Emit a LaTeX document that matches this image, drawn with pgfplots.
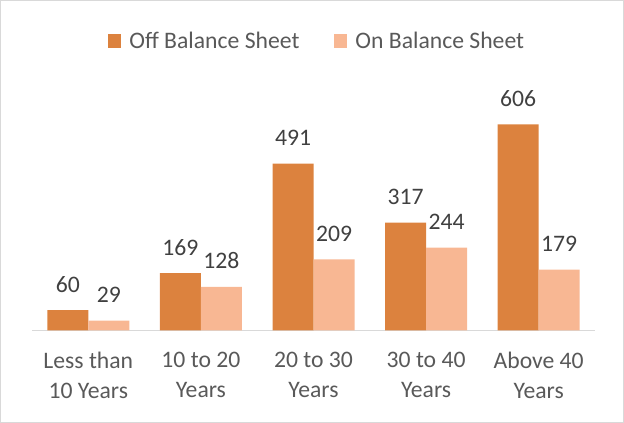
\documentclass[border=0pt]{standalone}
\usepackage{pgfplots}
\pgfplotsset{compat=1.18}
\usepackage{fontspec}
\setmainfont{Carlito}
\definecolor{offc}{RGB}{220,130,62}
\definecolor{onc}{RGB}{248,183,147}
\definecolor{txt}{RGB}{89,89,89}
\definecolor{lbl}{RGB}{64,64,64}
\definecolor{frame}{RGB}{217,217,217}
\begin{document}
\begin{tikzpicture}
\useasboundingbox (0,0) rectangle (468pt,317.25pt);
\draw[frame, line width=0.8pt] (0.5pt,0.5pt) rectangle (467.5pt,316.75pt);
\begin{axis}[
  at={(24pt,69.4pt)}, anchor=south west,
  scale only axis, width=422.25pt, height=178.5pt,
  ybar=0pt, bar width=30.75pt,
  xmin=-0.5, xmax=4.5, ymin=0, ymax=700,
  axis y line=none, axis x line*=bottom,
  x axis line style={frame, line width=1pt, -},
  xtick=data, major tick length=0pt,
  xticklabels={{Less than\\10 Years},{10 to 20\\Years},{20 to 30\\Years},{30 to 40\\Years},{Above 40\\Years}},
  xticklabel style={align=center, font=\fontsize{17.75pt}{22pt}\selectfont, text=txt, yshift=-13pt},
  /pgf/number format/assume math mode=true,
  nodes near coords,
  every node near coord/.append style={font=\fontsize{17.75pt}{18pt}\selectfont, text=lbl, anchor=base, yshift=13.5pt},
  legend columns=2,
  legend style={at={(0.507,1.216)}, anchor=center, draw=none, fill=none,
    font=\fontsize{17.75pt}{18pt}\selectfont, text=txt, inner xsep=0pt,
    /tikz/every even column/.append style={column sep=24pt}},
  legend image code/.code={\fill[#1] (0pt,-5pt) rectangle (9.75pt,5pt); \path (14pt,0pt);},
]
\addplot[fill=offc, draw=none] coordinates {(0,60) (1,169) (2,491) (3,317) (4,606)};
\addplot[fill=onc, draw=none] coordinates {(0,29) (1,128) (2,209) (3,244) (4,179)};
\legend{Off Balance Sheet, On Balance Sheet}
\end{axis}
\end{tikzpicture}
\end{document}
